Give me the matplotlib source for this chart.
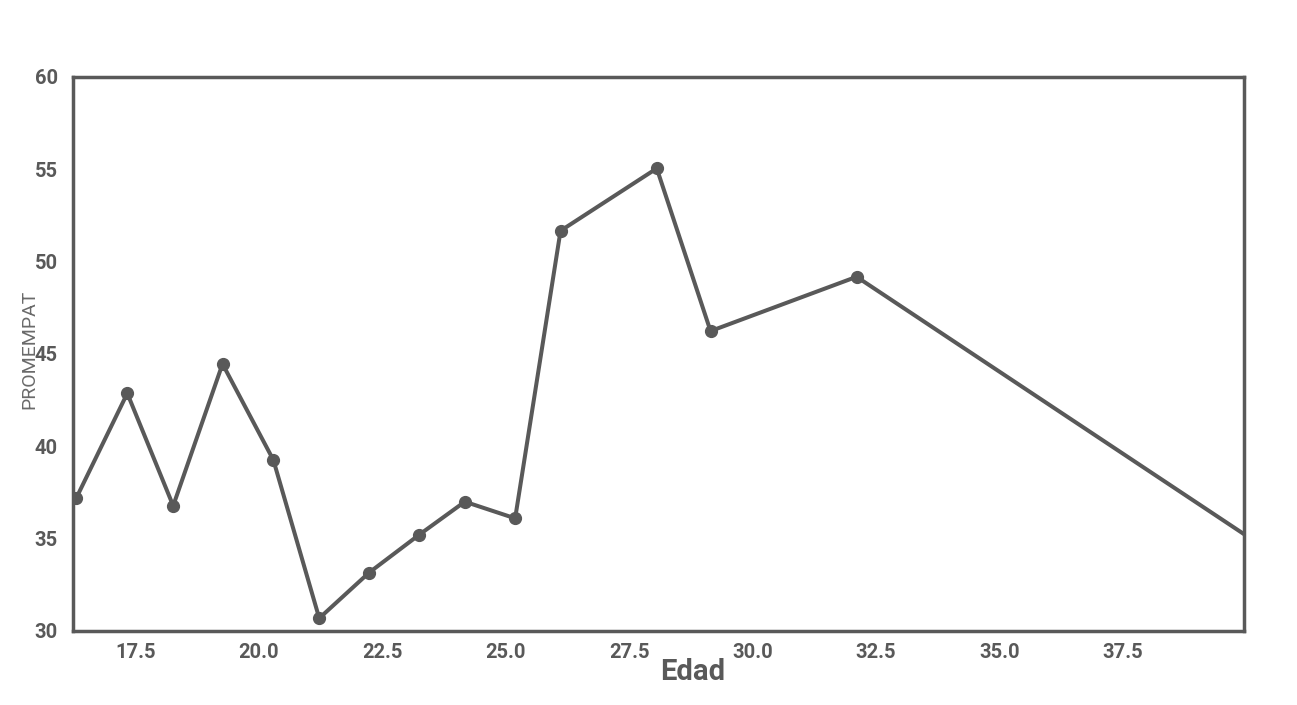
import matplotlib.pyplot as plt

# mean PROMEMPAT per age group
edad = [16.30, 17.33, 18.26, 19.26, 20.29, 21.22, 22.23, 23.24, 24.17,
        25.19, 26.11, 28.06, 29.15, 32.11, 41.0]
promempat = [37.22, 42.87, 36.78, 44.46, 39.26, 30.69, 33.16, 35.20, 37.00,
             36.10, 51.67, 55.05, 46.24, 49.18, 33.4]
xticks = [17.5, 20.0, 22.5, 25.0, 27.5, 30.0, 32.5, 35.0, 37.5]
yticks = [30, 35, 40, 45, 50, 55, 60]

gray = '#595959'
plt.rcParams['font.family'] = ['Roboto', 'DejaVu Sans']

fig = plt.figure(figsize=(12.97, 7.05), dpi=100)
ax = fig.add_axes([0.0563, 0.105, 0.9028, 0.7858])

ax.plot(edad, promempat, color=gray, linewidth=2.9, marker='o',
        markersize=8.5, solid_capstyle='butt')

ax.set_xlim(16.23, 39.96)
ax.set_ylim(30, 60)
ax.set_xticks(xticks)
ax.set_xticklabels([f"{t:.1f}" for t in xticks])
ax.set_yticks(yticks)

for s in ax.spines.values():
    s.set_color(gray)
    s.set_linewidth(2.5)

ax.tick_params(length=0, labelsize=14.5, labelcolor=gray)
ax.tick_params(axis='x', pad=9)
ax.tick_params(axis='y', pad=11)
for lab in ax.get_xticklabels() + ax.get_yticklabels():
    lab.set_fontweight('bold')

ax.set_xlabel('Edad', fontsize=21, fontweight='bold', color=gray)
ax.xaxis.set_label_coords(0.529, -0.074)
ax.xaxis.label.set_va('center')
ax.set_ylabel('PROMEMPAT', fontsize=14, color='#6a6a6a')
ax.yaxis.set_label_coords(-0.0373, 0.509)
ax.yaxis.label.set_va('center')

fig.savefig('out.png', dpi=100)
